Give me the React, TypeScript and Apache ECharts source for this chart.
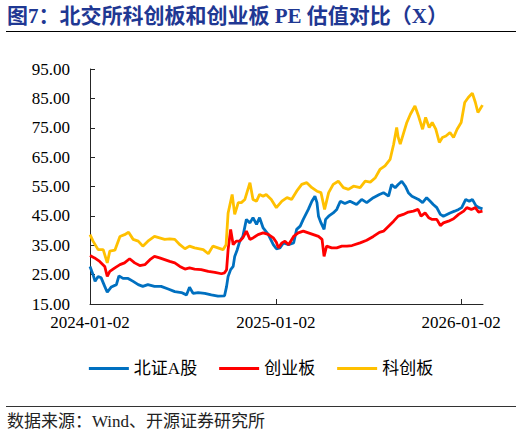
import React, { useEffect, useRef } from "react";
import * as echarts from "echarts";

const TITLE = "图7：北交所科创板和创业板 PE 估值对比（X）";
const SOURCE = "数据来源：Wind、开源证券研究所";
const SERIES_NAMES = ["北证A股", "创业板", "科创板"];
const X_TICKS = ["2024-01-02", "2025-01-02", "2026-01-02"];
const X_MIN = "2024-01-02";
const X_MAX = "2026-02-14";

const bjDates = [
  "2024-01-02","2024-01-08","2024-01-12","2024-01-18","2024-01-24","2024-01-31","2024-02-05","2024-02-13","2024-02-23","2024-02-28",
  "2024-03-07","2024-03-17","2024-03-27","2024-04-06","2024-04-15","2024-04-25","2024-05-08","2024-05-21","2024-06-04","2024-06-17",
  "2024-06-30","2024-07-10","2024-07-16","2024-07-23","2024-08-02","2024-08-15","2024-08-28","2024-09-10","2024-09-23","2024-09-27",
  "2024-09-30","2024-10-05","2024-10-10","2024-10-13","2024-10-18","2024-10-23","2024-10-29","2024-11-05","2024-11-12","2024-11-18",
  "2024-11-25","2024-12-01","2024-12-08","2024-12-18","2024-12-28","2025-01-03","2025-01-10","2025-01-17","2025-01-27","2025-02-06",
  "2025-02-12","2025-02-19","2025-02-25","2025-03-07","2025-03-14","2025-03-20","2025-03-24","2025-03-27","2025-04-01","2025-04-07",
  "2025-04-10","2025-04-16","2025-04-25","2025-05-02","2025-05-09","2025-05-18","2025-05-28","2025-06-10","2025-06-20","2025-06-30",
  "2025-07-13","2025-07-25","2025-08-02","2025-08-12","2025-08-18","2025-08-25","2025-08-31","2025-09-07","2025-09-14","2025-09-20",
  "2025-09-27","2025-10-03","2025-10-10","2025-10-18","2025-10-26","2025-11-02","2025-11-08","2025-11-15","2025-11-22","2025-11-28",
  "2025-12-05","2025-12-11","2025-12-20","2025-12-28","2026-01-03","2026-01-11","2026-01-18","2026-01-24","2026-01-31","2026-02-06",
  "2026-02-13"
];
const bjValues = [
  27.8,25.0,22.7,24.4,23.9,21.0,19.0,20.8,21.6,24.6,
  23.7,23.7,22.7,21.6,21.0,21.6,21.0,21.0,20.1,19.2,
  18.9,18.1,20.7,18.6,18.9,18.6,18.1,17.7,17.8,21.0,
  24.4,26.7,27.8,31.2,33.5,36.4,38.0,43.8,42.6,44.4,
  42.1,44.4,40.9,38.7,35.2,33.8,34.1,35.8,35.2,35.8,
  40.4,41.5,43.8,47.2,50.0,51.7,49.5,44.9,42.6,40.4,
  43.8,44.9,46.0,47.2,50.0,49.2,50.0,48.9,50.6,49.5,
  51.2,52.3,52.9,51.7,55.7,54.6,55.7,56.8,55.1,52.9,
  51.7,51.2,50.6,49.5,51.2,50.0,48.9,47.8,45.5,44.9,
  45.5,46.0,46.6,47.2,47.8,50.6,50.0,50.6,48.5,47.8,
  47.4
];

const cybDates = [
  "2024-01-02","2024-01-11","2024-01-21","2024-01-31","2024-02-05","2024-02-10","2024-02-20","2024-03-01","2024-03-10","2024-03-20",
  "2024-03-30","2024-04-09","2024-04-19","2024-04-29","2024-05-08","2024-05-18","2024-05-28","2024-06-07","2024-06-17","2024-06-27",
  "2024-07-07","2024-07-16","2024-07-26","2024-08-08","2024-08-22","2024-09-04","2024-09-17","2024-09-23","2024-09-27","2024-09-30",
  "2024-10-05","2024-10-10","2024-10-16","2024-10-23","2024-10-29","2024-11-05","2024-11-12","2024-11-18","2024-11-28","2024-12-08",
  "2024-12-18","2024-12-28","2025-01-03","2025-01-07","2025-01-14","2025-01-20","2025-01-27","2025-02-06","2025-02-15","2025-02-25",
  "2025-03-07","2025-03-17","2025-03-27","2025-04-03","2025-04-07","2025-04-12","2025-04-22","2025-05-02","2025-05-12","2025-05-22",
  "2025-06-01","2025-06-17","2025-06-30","2025-07-13","2025-07-25","2025-08-02","2025-08-12","2025-08-22","2025-08-31","2025-09-10",
  "2025-09-20","2025-09-30","2025-10-09","2025-10-15","2025-10-23","2025-10-30","2025-11-06","2025-11-15","2025-11-22","2025-11-28",
  "2025-12-08","2025-12-18","2025-12-28","2026-01-07","2026-01-13","2026-01-22","2026-01-30","2026-02-05","2026-02-13"
];
const cybValues = [
  31.5,30.7,29.5,27.8,24.4,26.1,27.3,28.4,29.0,30.4,
  29.0,28.1,28.4,30.1,31.2,30.7,30.1,29.5,29.0,27.8,
  26.9,27.3,26.9,26.7,26.1,25.8,25.3,25.6,26.7,33.5,
  40.4,35.2,36.4,36.4,37.5,39.8,37.0,37.5,38.6,39.2,
  38.7,37.5,36.0,34.1,35.8,36.4,35.2,38.0,39.2,39.8,
  39.2,38.6,38.0,37.0,31.2,34.7,34.1,34.1,34.7,34.7,
  34.9,35.8,36.7,38.0,39.4,39.8,41.5,43.2,44.9,45.5,
  46.3,46.6,47.2,44.9,46.0,44.4,43.8,43.8,41.7,42.6,
  43.2,44.0,45.5,46.6,47.8,47.2,47.8,46.3,46.6
];

const kcbDates = [
  "2024-01-02","2024-01-08","2024-01-18","2024-01-28","2024-02-05","2024-02-10","2024-02-20","2024-03-01","2024-03-10","2024-03-18",
  "2024-03-27","2024-04-06","2024-04-15","2024-04-25","2024-05-08","2024-05-18","2024-05-28","2024-06-07","2024-06-17","2024-06-27",
  "2024-07-07","2024-07-16","2024-07-26","2024-08-12","2024-08-22","2024-08-31","2024-09-10","2024-09-20","2024-09-26","2024-09-30",
  "2024-10-08","2024-10-13","2024-10-20","2024-10-26","2024-11-02","2024-11-12","2024-11-18","2024-11-25","2024-12-01","2024-12-08",
  "2024-12-14","2024-12-24","2025-01-03","2025-01-14","2025-01-24","2025-02-02","2025-02-12","2025-02-22","2025-03-04","2025-03-14",
  "2025-03-24","2025-04-01","2025-04-08","2025-04-16","2025-04-25","2025-05-05","2025-05-15","2025-05-25","2025-06-04","2025-06-17",
  "2025-06-27","2025-07-07","2025-07-17","2025-07-26","2025-08-05","2025-08-15","2025-08-22","2025-08-28","2025-08-31","2025-09-04",
  "2025-09-10","2025-09-17","2025-09-24","2025-10-03","2025-10-10","2025-10-18","2025-10-24","2025-10-31","2025-11-06","2025-11-13",
  "2025-11-20","2025-11-26","2025-12-03","2025-12-11","2025-12-18","2025-12-25","2026-01-02","2026-01-09","2026-01-16","2026-01-24",
  "2026-01-30","2026-02-04","2026-02-08","2026-02-13"
];
const kcbValues = [
  38.6,36.4,33.5,33.5,29.0,33.0,33.3,38.0,38.6,39.4,
  37.0,36.4,34.7,36.4,38.0,37.5,37.0,37.2,37.0,35.2,
  33.8,34.7,34.1,33.5,32.1,34.7,34.1,33.5,35.2,46.0,
  52.3,45.5,49.5,49.5,50.6,56.3,50.6,50.0,52.3,51.7,
  52.3,50.6,47.8,50.0,51.2,50.6,53.4,55.7,56.3,54.6,
  53.4,52.9,47.2,52.9,55.7,56.8,54.6,54.0,55.1,54.6,
  56.8,56.5,58.0,60.8,62.0,64.2,69.4,75.1,71.7,69.4,
  72.8,76.8,79.6,82.4,79.0,74.5,78.5,75.1,76.8,74.5,
  70.0,71.7,72.2,73.4,71.7,74.5,76.8,83.6,85.3,86.8,
  83.6,80.2,81.3,82.7
];

const COLORS = ["#0070C0", "#FF0000", "#FFC000"];

const ts = (s: string) => new Date(s + "T00:00:00").getTime();
const pad = (n: number) => (n < 10 ? "0" + n : "" + n);
const fmtDate = (v: number) => {
  const d = new Date(v);
  return `${d.getFullYear()}-${pad(d.getMonth() + 1)}-${pad(d.getDate())}`;
};
const pairs = (dates: string[], vals: number[]) => dates.map((d, i) => [ts(d), vals[i]]);

const LATIN_CJK = "'Liberation Serif', 'Times New Roman', 'Noto Sans CJK SC'";

export default function App() {
  const ref = useRef<HTMLDivElement>(null);
  useEffect(() => {
    if (!ref.current) return;
    const chart = echarts.init(ref.current, undefined, { renderer: "svg" });
    const tickVals = X_TICKS.map(ts);
    chart.setOption({
      animation: false,
      backgroundColor: "#ffffff",
      grid: { left: 90, right: 39, top: 69, bottom: 132, containLabel: false },
      graphic: [
        {
          type: "text",
          left: 7,
          top: 5,
          style: {
            text: TITLE,
            fill: "#1F3893",
            font: `bold 21px ${LATIN_CJK}`,
          },
        },
        {
          type: "line",
          shape: { x1: 6, y1: 31.5, x2: 516, y2: 31.5 },
          style: { stroke: "#000000", lineWidth: 1 },
        },
        {
          type: "line",
          shape: { x1: 6, y1: 406.5, x2: 516, y2: 406.5 },
          style: { stroke: "#333333", lineWidth: 1 },
        },
        {
          type: "text",
          left: 7,
          top: 413,
          style: {
            text: SOURCE,
            fill: "#222222",
            font: `17px ${LATIN_CJK}`,
          },
        },
      ],
      legend: {
        data: SERIES_NAMES,
        left: "center",
        top: 355,
        icon: "rect",
        itemWidth: 40,
        itemHeight: 3,
        itemGap: 22,
        textStyle: { fontSize: 17, color: "#000", fontFamily: LATIN_CJK },
      },
      xAxis: {
        type: "value",
        min: ts(X_MIN),
        max: ts(X_MAX),
        axisLine: { show: true, lineStyle: { color: "#262626", width: 1 } },
        axisTick: { show: true, inside: true, length: 5, customValues: tickVals, lineStyle: { color: "#262626" } },
        axisLabel: {
          customValues: tickVals,
          formatter: (v: number) => fmtDate(v),
          fontSize: 17,
          color: "#000",
          fontFamily: "'Liberation Serif', 'Times New Roman', serif",
          margin: 10,
          hideOverlap: false,
        },
        splitLine: { show: false },
      },
      yAxis: {
        type: "value",
        min: 15,
        max: 95,
        interval: 10,
        axisLine: { show: true, lineStyle: { color: "#262626", width: 1 } },
        axisTick: { show: true, inside: true, length: 5, lineStyle: { color: "#262626" } },
        axisLabel: {
          formatter: (v: number) => v.toFixed(2),
          fontSize: 17,
          color: "#000",
          fontFamily: "'Liberation Serif', 'Times New Roman', serif",
          margin: 20,
        },
        splitLine: { show: false },
      },
      series: [
        { name: SERIES_NAMES[0], type: "line", data: pairs(bjDates, bjValues), showSymbol: false, lineStyle: { width: 2.8, color: COLORS[0] }, itemStyle: { color: COLORS[0] } },
        { name: SERIES_NAMES[1], type: "line", data: pairs(cybDates, cybValues), showSymbol: false, lineStyle: { width: 2.8, color: COLORS[1] }, itemStyle: { color: COLORS[1] } },
        { name: SERIES_NAMES[2], type: "line", data: pairs(kcbDates, kcbValues), showSymbol: false, lineStyle: { width: 2.8, color: COLORS[2] }, itemStyle: { color: COLORS[2] } },
      ],
    });
    return () => chart.dispose();
  }, []);
  return (
    <div
      ref={ref}
      style={{ position: "fixed", left: 0, top: 0, width: 522, height: 436, background: "#fff" }}
    />
  );
}
